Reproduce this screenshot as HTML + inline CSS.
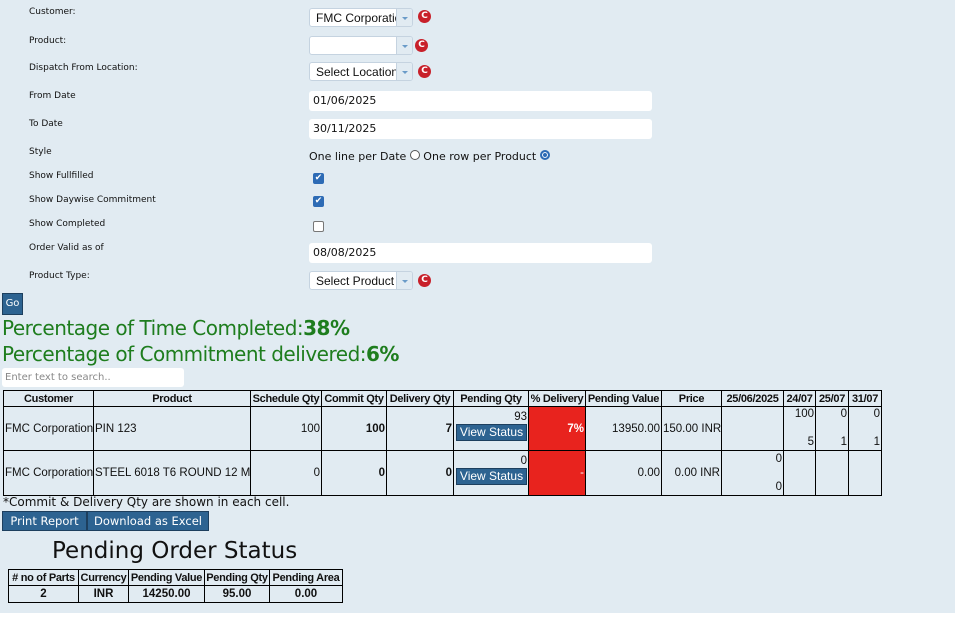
<!DOCTYPE html>
<html><head><meta charset="utf-8"><style>
*{margin:0;padding:0;box-sizing:border-box}
body{width:955px;height:620px;background:#fff;font-family:"DejaVu Sans","Liberation Sans",sans-serif;color:#111;position:relative;overflow:hidden}
#bg{position:absolute;left:0;top:0;width:955px;height:613px;background:#e1ebf2}
.a{position:absolute;white-space:nowrap}
.lbl{font-size:9px;left:29px}
.sel{position:absolute;left:309px;width:104px;height:19px;background:#fff;border:1px solid #c5d3e0;border-radius:3px;font-size:12px;padding:2px 0 0 6px;overflow:hidden;white-space:nowrap;font-family:"Liberation Sans",sans-serif}
.sel .dd{position:absolute;right:0;top:0;width:16px;height:100%;background:#e1ebf2;border-left:1px solid #c5d3e0}
.sel .dd:after{content:"";position:absolute;left:5px;top:8px;border:3px solid transparent;border-top:3px solid #6a9bc8}
.c{position:absolute;width:13px;height:13px;border-radius:50%;background:#c8202a;color:#fff;font-size:9px;font-weight:bold;text-align:center;line-height:13px}
.inp{position:absolute;left:309px;width:343px;height:20px;background:#fff;border-radius:3px;font-size:11px;padding:3px 0 0 4px}
.cb{position:absolute;left:313px;width:11px;height:11px;border-radius:2px;background:#2d6bb5;color:#fff;font-size:9px;line-height:11px;text-align:center}
.cb.e{background:#fff;border:1px solid #777}
.btn{position:absolute;background:#2d6391;color:#fff;border:1px solid #1d3f5e;font-size:11.5px;text-align:center}
table{border-collapse:collapse;position:absolute;table-layout:fixed;font-family:"Liberation Sans",sans-serif}
td,th{border:1px solid #000;font-size:11.5px;white-space:nowrap;overflow:hidden;padding:0 1px}
th{font-weight:bold;height:16px;font-size:11px;letter-spacing:-0.3px;padding:0}
.vs{display:inline-block;background:#2d6391;color:#fff;border:1px solid #1d3f5e;width:71px;height:17px;text-align:center;line-height:15px;font-size:12px}
</style></head><body>
<div id="bg"></div>
<div class="a lbl" style="top:7px">Customer:</div>
<div class="a lbl" style="top:36px">Product:</div>
<div class="a lbl" style="top:63px">Dispatch From Location:</div>
<div class="a lbl" style="top:91px">From Date</div>
<div class="a lbl" style="top:119px">To Date</div>
<div class="a lbl" style="top:147px">Style</div>
<div class="a lbl" style="top:171px">Show Fullfilled</div>
<div class="a lbl" style="top:195px">Show Daywise Commitment</div>
<div class="a lbl" style="top:219px">Show Completed</div>
<div class="a lbl" style="top:243px">Order Valid as of</div>
<div class="a lbl" style="top:271px">Product Type:</div>

<div class="sel" style="top:8px">FMC Corporation<div class="dd"></div></div><div class="c" style="left:418px;top:10px">C</div>
<div class="sel" style="top:36px"><div class="dd"></div></div><div class="c" style="left:415px;top:39px">C</div>
<div class="sel" style="top:62px">Select Location<div class="dd"></div></div><div class="c" style="left:418px;top:65px">C</div>
<div class="inp" style="top:91px">01/06/2025</div>
<div class="inp" style="top:119px">30/11/2025</div>
<div class="a" style="left:309px;top:150px;font-size:11px">One line per Date <span style="display:inline-block;width:10px;height:10px;border:1px solid #555;border-radius:50%;background:#fff"></span> One row per Product <span style="display:inline-block;width:10px;height:10px;border:2px solid #2d6bb5;border-radius:50%;background:#2d6bb5;box-shadow:inset 0 0 0 1px #fff"></span></div>
<div class="cb" style="top:173px">✔</div>
<div class="cb" style="top:196px">✔</div>
<div class="cb e" style="top:221px"></div>
<div class="inp" style="top:243px">08/08/2025</div>
<div class="sel" style="top:271px">Select Product<div class="dd"></div></div><div class="c" style="left:418px;top:274px">C</div>

<div class="btn" style="left:2px;top:293px;width:21px;height:22px;font-size:10px;line-height:20px">Go</div>
<div class="a" style="left:2px;top:316px;font-size:20px;color:#1e7d1e;letter-spacing:-0.5px">Percentage of Time Completed:<b>38%</b></div>
<div class="a" style="left:2px;top:342px;font-size:20px;color:#1e7d1e;letter-spacing:-0.5px">Percentage of Commitment delivered:<b>6%</b></div>
<div class="a" style="left:2px;top:368px;width:182px;height:19px;background:#fff;border-radius:3px;font-size:10px;color:#888;padding:4px 0 0 3px">Enter text to search..</div>

<table style="left:3px;top:390px;width:878px">
<colgroup><col style="width:90px"><col style="width:157px"><col style="width:71px"><col style="width:65px"><col style="width:67px"><col style="width:75px"><col style="width:57px"><col style="width:76px"><col style="width:60px"><col style="width:62px"><col style="width:32px"><col style="width:33px"><col style="width:33px"></colgroup>
<tr><th>Customer</th><th>Product</th><th>Schedule Qty</th><th>Commit Qty</th><th>Delivery Qty</th><th>Pending Qty</th><th>% Delivery</th><th>Pending Value</th><th>Price</th><th>25/06/2025</th><th>24/07</th><th>25/07</th><th>31/07</th></tr>
<tr style="height:44px"><td>FMC Corporation</td><td>PIN 123</td><td style="text-align:right">100</td><td style="text-align:right;font-weight:bold">100</td><td style="text-align:right;font-weight:bold">7</td><td style="text-align:right;vertical-align:top;padding-top:4px;line-height:13px">93<br><span class="vs">View Status</span></td><td style="background:#e8231e;color:#fff;text-align:right;font-weight:bold">7%</td><td style="text-align:right">13950.00</td><td>150.00 INR</td><td></td><td style="text-align:right;vertical-align:top;line-height:14px">100<br><br>5</td><td style="text-align:right;vertical-align:top;line-height:14px">0<br><br>1</td><td style="text-align:right;vertical-align:top;line-height:14px">0<br><br>1</td></tr>
<tr style="height:45px"><td>FMC Corporation</td><td>STEEL 6018 T6 ROUND 12 MM</td><td style="text-align:right">0</td><td style="text-align:right;font-weight:bold">0</td><td style="text-align:right;font-weight:bold">0</td><td style="text-align:right;vertical-align:top;padding-top:4px;line-height:13px">0<br><span class="vs">View Status</span></td><td style="background:#e8231e;color:#fff;text-align:right;border-top:1px solid #fff">-</td><td style="text-align:right">0.00</td><td style="text-align:right">0.00 INR</td><td style="text-align:right;line-height:14px">0<br><br>0</td><td></td><td></td><td></td></tr>
</table>
<div class="a" style="left:3px;top:495px;font-size:12px">*Commit &amp; Delivery Qty are shown in each cell.</div>
<div class="btn" style="left:2px;top:511px;width:85px;height:20px;line-height:18px">Print Report</div>
<div class="btn" style="left:87px;top:511px;width:122px;height:20px;line-height:18px">Download as Excel</div>
<div class="a" style="left:52px;top:538px;font-size:23px">Pending Order Status</div>
<table style="left:8px;top:569px;width:334px">
<colgroup><col style="width:70px"><col style="width:50px"><col style="width:76px"><col style="width:65px"><col style="width:73px"></colgroup>
<tr><th>#&nbsp;no of Parts</th><th>Currency</th><th>Pending Value</th><th>Pending Qty</th><th>Pending Area</th></tr>
<tr style="height:17px;text-align:center"><td style="font-weight:bold">2</td><td style="font-weight:bold">INR</td><td style="font-weight:bold">14250.00</td><td style="font-weight:bold">95.00</td><td style="font-weight:bold">0.00</td></tr>
</table>
</body></html>
